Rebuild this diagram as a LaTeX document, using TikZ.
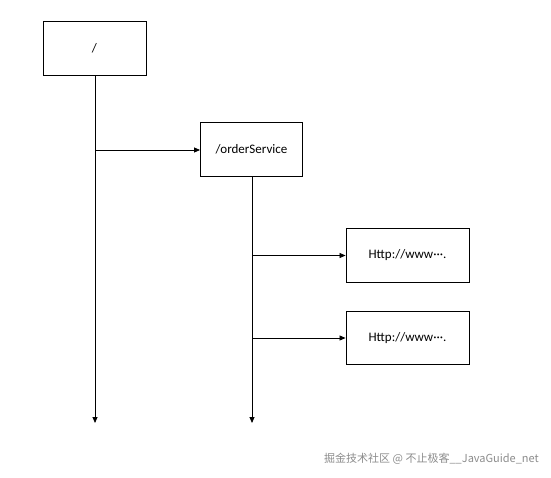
\documentclass[tikz,border=0pt]{standalone}
\usepackage{fontspec}
\setmainfont{Carlito}
\newfontfamily\cjk{Noto Sans CJK SC}
\usetikzlibrary{arrows.meta}
\begin{document}
\begin{tikzpicture}[x=1pt,y=-1pt,
  boxnode/.style={draw,line width=0.9pt,minimum width=#1,inner sep=0pt,font=\fontsize{13}{15}\selectfont},
  link/.style={line width=0.8pt,-{Triangle[length=6pt,width=5pt]}}]
\useasboundingbox (0,0) rectangle (551,478);
\node[boxnode=103pt,minimum height=54pt] (root) at (94.5,48) {/};
\node[boxnode=102pt,minimum height=54pt] (order) at (251.5,149.5) {/orderService};
\node[boxnode=123pt,minimum height=54pt] (h1) at (407.5,255.5) {Http://www···.};
\node[boxnode=123pt,minimum height=53pt] (h2) at (407.5,338) {Http://www···.};
\coordinate (rootend) at (95,423);
\coordinate (orderend) at (252,423);
\coordinate (j1) at (95,150);
\coordinate (j2) at (252,255.5);
\coordinate (j3) at (252,338);
\draw[link] (root.south -| rootend) -- (rootend);
\draw[link] (order.south -| orderend) -- (orderend);
\draw[link] (j1) -- (order.west |- j1);
\draw[link] (j2) -- (h1.west |- j2);
\draw[link] (j3) -- (h2.west |- j3);
\node[font=\cjk\fontsize{11}{13}\selectfont,text=black!45,anchor=east,inner sep=0pt] (wm) at (539,459) {掘金技术社区 @ 不止极客\_\_JavaGuide\_net};
\end{tikzpicture}
\end{document}
